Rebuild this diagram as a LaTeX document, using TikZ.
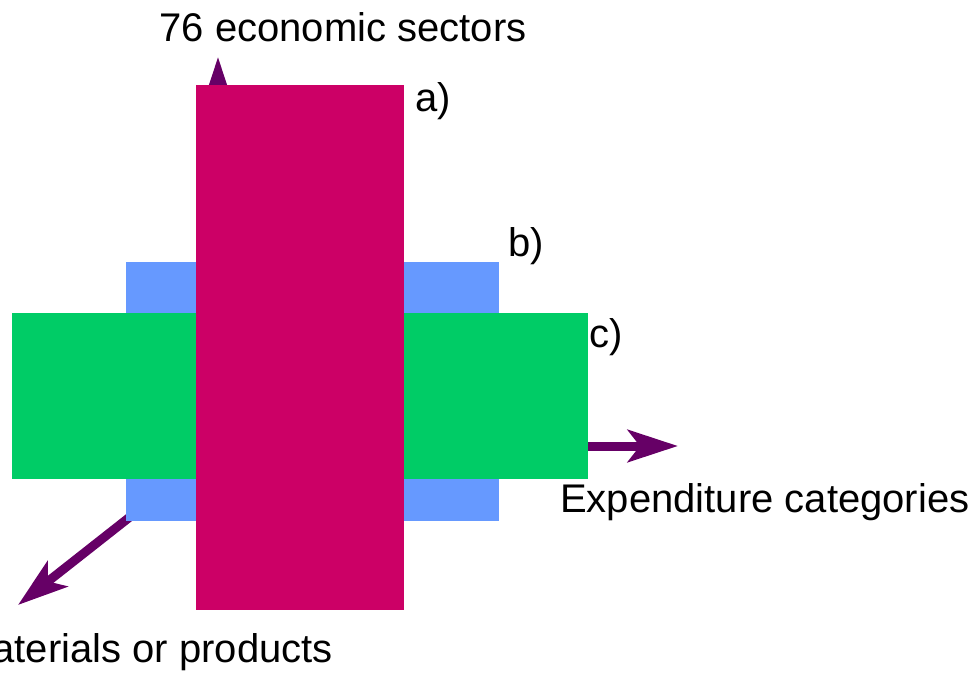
\documentclass[tikz,border=0pt]{standalone}
\usepackage{fontspec}
\setmainfont{Liberation Sans}
\usetikzlibrary{arrows.meta,positioning}

\definecolor{sectorred}{HTML}{CC0066}
\definecolor{prodblue}{HTML}{6699FF}
\definecolor{expgreen}{HTML}{00CC66}
\definecolor{axispurple}{HTML}{660066}

\tikzset{
  axisarrow/.style={draw=axispurple,line width=6.75pt,
    -{Stealth[length=37.5pt,width=24pt,inset=9pt,fill=axispurple]}},
  axislabel/.style={inner sep=0pt,font=\fontsize{30}{36}\selectfont},
}

\begin{document}
\begin{tikzpicture}[x=0.75pt,y=-0.75pt]
	\useasboundingbox (0,0) rectangle (977,673);
	\clip (0,0) rectangle (977,673);
	%\draw[color=gray,step=10, help lines,opacity=0.3] (0,0) grid (977,673); %help grid

	% axis ends
	\coordinate (upbase) at (218,300);
	\coordinate (uptip) at (218,57);
	\coordinate (rightbase) at (560,446);
	\coordinate (righttip) at (678,446);
	\coordinate (diagbase) at (140,509);
	\coordinate (diagtip) at (18,605);

	\draw[axisarrow] (upbase)--(uptip);
	\draw[axisarrow] (rightbase)--(righttip);
	\draw[axisarrow] (diagbase)--(diagtip);

	% the three tables
	\fill[prodblue] (126,262) rectangle (499,521);
	\fill[expgreen] (12,313) rectangle (588,479);
	\fill[sectorred] (196,85) rectangle (404,610);

	\node[axislabel,anchor=base] (sectors) at (343,42) {76 economic sectors};
	\node[axislabel,anchor=base west] (expend) at (560,512) {Expenditure categories};
	\node[axislabel,anchor=base east] (materials) at (333,662) {Materials or products};

	\node[axislabel,anchor=base west] (la) at (415,112) {a)};
	\node[axislabel,anchor=base west] (lb) at (508,257) {b)};
	\node[axislabel,anchor=base west] (lc) at (589,347) {c)};
\end{tikzpicture}
\end{document}
